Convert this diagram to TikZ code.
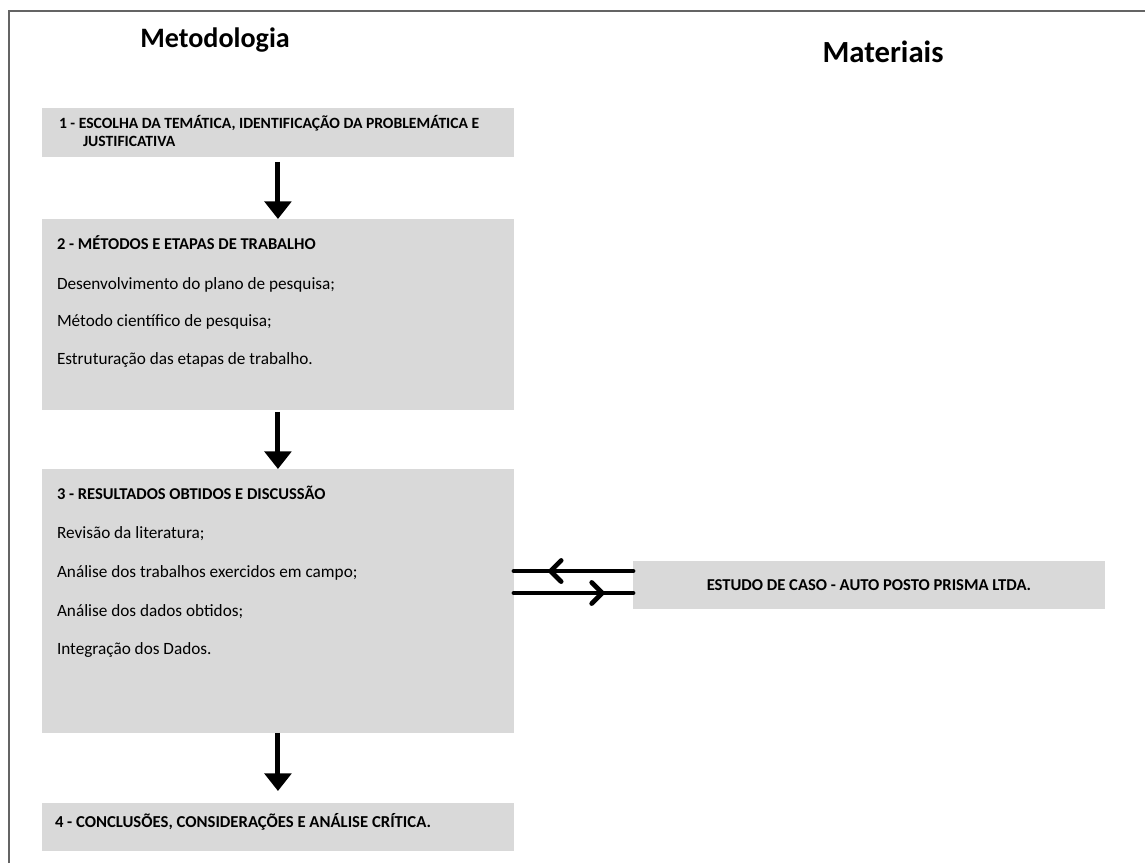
\documentclass[tikz,border=0pt]{standalone}
\usepackage{fontspec}
\setmainfont{Carlito}
\usetikzlibrary{arrows.meta,decorations.markings}
\definecolor{cinzacaixa}{RGB}{217,217,217}
\definecolor{moldura}{RGB}{100,100,100}

\begin{document}
\begin{tikzpicture}[x=0.02cm, y=-0.02cm,
  every node/.style={inner sep=0pt, outer sep=0pt},
  caixa/.style={fill=cinzacaixa, anchor=north west, minimum width=9.44cm},
  cab/.style={anchor=base west, font=\bfseries\fontsize{9.4}{11}\selectfont},
  item/.style={anchor=base west, font=\fontsize{9.8}{12}\selectfont},
  titulo/.style={font=\bfseries\fontsize{16}{19}\selectfont},
  seta/.style={line width=2.8pt, -{Triangle[width=15pt, length=10pt]}},
  duplo/.style={line width=2.7pt, line cap=round, postaction={decorate}}]
\useasboundingbox (0,0) rectangle (1145,863);
\draw[moldura, line width=1.3pt] (9,863) -- (9,11) -- (1145,11);

\node[titulo] (T1) at (215,40) {Metodologia};
\node[titulo, font=\bfseries\fontsize{17.5}{21}\selectfont] (T2) at (883,52) {Materiais};

\node[caixa, minimum height=0.98cm] (B1) at (42,108) {};
\node[cab, font=\bfseries\fontsize{8.9}{10}\selectfont] (B1L1) at (59,128) {1 - ESCOLHA DA TEMÁTICA, IDENTIFICAÇÃO DA PROBLEMÁTICA E};
\node[cab, font=\bfseries\fontsize{8.9}{10}\selectfont] (B1L2) at (83,146) {JUSTIFICATIVA};

\node[caixa, minimum height=3.82cm] (B2) at (42,219) {};
\node[cab] (B2L0) at (57,249) {2 - MÉTODOS E ETAPAS DE TRABALHO};
\node[item] (B2L1) at (57,289) {Desenvolvimento do plano de pesquisa;};
\node[item] (B2L2) at (57,326) {Método científico de pesquisa;};
\node[item] (B2L3) at (57,364) {Estruturação das etapas de trabalho.};

\node[caixa, minimum height=5.28cm] (B3) at (42,469) {};
\node[cab] (B3L0) at (57,499) {3 - RESULTADOS OBTIDOS E DISCUSSÃO};
\node[item] (B3L1) at (57,538) {Revisão da literatura;};
\node[item] (B3L2) at (57,577) {Análise dos trabalhos exercidos em campo;};
\node[item] (B3L3) at (57,616) {Análise dos dados obtidos;};
\node[item] (B3L4) at (57,654) {Integração dos Dados.};

\node[caixa, minimum height=0.96cm] (B4) at (42,803) {};
\node[cab, font=\bfseries\fontsize{9.5}{12}\selectfont] (B4L0) at (55,827) {4 - CONCLUSÕES, CONSIDERAÇÕES E ANÁLISE CRÍTICA.};

\node[caixa, minimum height=0.96cm] (B5) at (633,561) {};
\node[font=\bfseries\fontsize{9.45}{11}\selectfont] (B5L0) at (B5) {ESTUDO DE CASO - AUTO POSTO PRISMA LTDA.};

\draw[seta, shorten <=0.1cm] (B1.south) -- (B2.north);
\draw[seta, shorten <=0.04cm] (B2.south) -- (B3.north);
\draw[seta, shorten >=0.24cm] (B3.south) -- (B4.north);

\coordinate (U1) at ([yshift=0.28cm]B5.west);
\coordinate (U2) at ([yshift=-0.16cm]B5.west);
\draw[duplo, decoration={markings, mark=at position 0.72 with {\arrow{Straight Barb[length=6pt, width=12pt, line cap=round]}}}] (U1) -- (U1 -| B3.east);
\draw[duplo, decoration={markings, mark=at position 0.77 with {\arrow{Straight Barb[length=6pt, width=12pt, line cap=round]}}}] (U2 -| B3.east) -- (U2);
\end{tikzpicture}
\end{document}
